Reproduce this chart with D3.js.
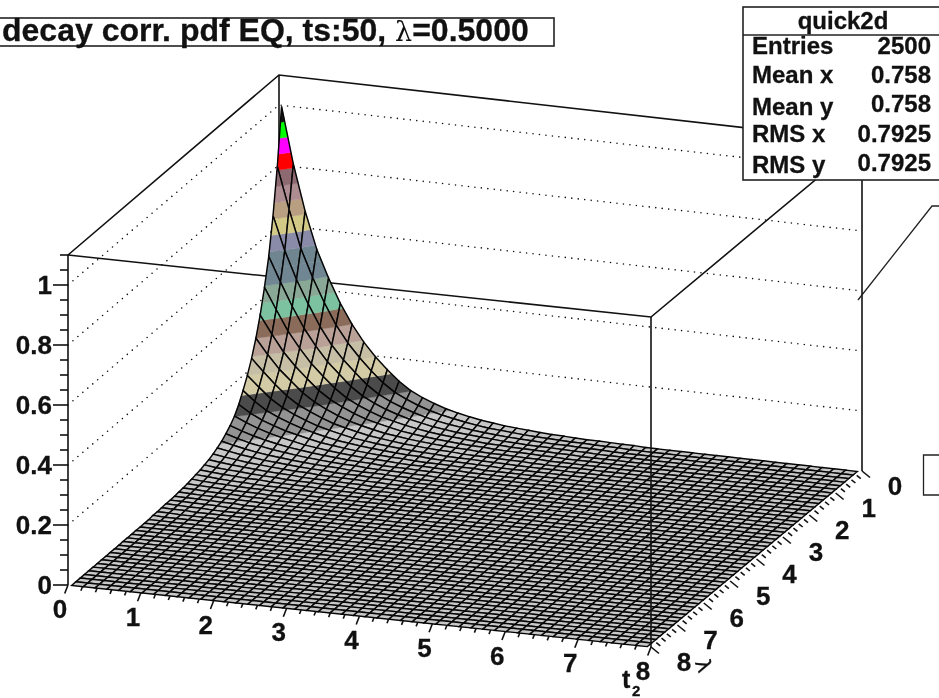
<!DOCTYPE html>
<html>
<head>
<meta charset="utf-8">
<style>
  html, body { margin: 0; padding: 0; background: #fff; overflow: hidden; }
  svg { display: block; filter: blur(0.35px); }
  text { font-family: "Liberation Sans", Arial, sans-serif; font-weight: bold; fill: #111; stroke: #111; stroke-width: 0.3; }
</style>
<script src="https://cdn.jsdelivr.net/npm/d3@7"></script>
</head>
<body>
<svg id="chart" width="939" height="698"></svg>
<script>
// decay corr. pdf surface, drawn back to front like a ROOT surf1

const titleStart = "decay corr. pdf EQ, ts:50, ";
const titleEnd = "=0.5000";
const statNames = ["Entries", "Mean x", "Mean y", "RMS x", "RMS y"];
const statValues = ["2500", "0.758", "0.758", "0.7925", "0.7925"];

const tTicks = [0, 1, 2, 3, 4, 5, 6, 7, 8];
const lambdaTicks = [0, 1, 2, 3, 4, 5, 6, 7, 8];
const zTicks = [0, 0.2, 0.4, 0.6, 0.8, 1];
const BINS = 50;

// upper triangle of the (symmetric) pdf, row i starts at column j = i; anything past the end is 0
const pdfRows = [
  [1.00,.812,.660,.536,.445,.365,.300,.245,.200,.162,.128,.101,.082,.067,.054,.044,.036,.029,.024,.019,.016,.013,.010,.008,.007,.005,.004,.004,.003,.002,.002],
  [.673,.547,.455,.375,.305,.250,.205,.165,.130,.103,.084,.068,.055,.045,.037,.030,.024,.019,.016,.013,.010,.008,.007,.005,.004,.004,.003,.002,.002],
  [.455,.378,.308,.250,.205,.167,.131,.104,.084,.069,.056,.045,.037,.030,.025,.020,.016,.013,.010,.008,.007,.005,.004,.004,.003,.002,.002],
  [.310,.255,.207,.170,.133,.106,.086,.070,.057,.046,.038,.030,.025,.020,.017,.014,.011,.008,.007,.005,.004,.004,.003,.002,.002],
  [.208,.170,.135,.107,.087,.071,.057,.047,.038,.031,.025,.020,.017,.014,.011,.008,.007,.005,.004,.004,.003,.002,.002],
  [.135,.109,.089,.072,.058,.048,.039,.031,.026,.021,.017,.014,.011,.009,.008,.005,.004,.004,.003,.002,.002],
  [.089,.072,.058,.048,.039,.031,.026,.021,.017,.014,.011,.009,.008,.005,.004,.004,.003,.002,.002],
  [.058,.048,.039,.031,.026,.021,.017,.014,.011,.009,.008,.005,.004,.004,.003,.002,.002],
  [.039,.031,.026,.021,.017,.014,.011,.009,.008,.005,.004,.004,.003,.002,.002],
  [.026,.021,.017,.014,.011,.009,.008,.005,.004,.004,.003,.002,.002],
  [.017,.014,.011,.009,.008,.005,.004,.004,.003,.002,.002],
  [.011,.009,.008,.005,.004,.004,.003,.002,.002],
  [.008,.005,.004,.004,.003,.002,.002],
  [.004,.004,.003,.002,.002],
  [.003,.002,.002],
  [.002]
];

// contour levels and the colour of each band, low to high
const bandLevels = [.05,.1,.15,.2,.25,.3,.35,.4,.45,.5,.55,.6,.65,.7,.75,.8,.85,.9,.95];
const bandColors = ["#c8c8c8","#939393","#4b4b4b","#d3caa6","#c6bfa5","#b9a198","#8b6c5a","#7cc2a0","#8aa896","#708793",
  "#6f8590","#8a8ba8","#d2c987","#b89f82","#ad8c92","#8d6a72","#ff0000","#ff00ff","#00ff00","#111111"];

const svg = d3.select("#chart");

// oblique projection: each axis moves the point along its own screen direction,
// plus a small sag term since the box is not quite parallel in the picture
const ORIGIN = [279, 405];
const tX = d3.scaleLinear().domain([0, 8]).range([0, 583]);
const tY = d3.scaleLinear().domain([0, 8]).range([0, 66]);
const lX = d3.scaleLinear().domain([0, 8]).range([0, -211]);
const lY = d3.scaleLinear().domain([0, 8]).range([0, 180]);
const sag = d3.scaleLinear().domain([0, 64]).range([0, -4]);
const zY = d3.scaleLinear().domain([0, 1]).range([0, -300]);
const project = (t, l, z) => [ORIGIN[0] + tX(t) + lX(l), ORIGIN[1] + tY(t) + lY(l) + sag(t * l) + zY(z)];
const Z_TOP = 1.1;

// mesh nodes: small white gap along the t ends, none on the front lambda edge
const tNode = d3.scaleLinear().domain([0, BINS - 1]).range([0.05, 7.95]);
const lNode = d3.scaleLinear().domain([0, BINS - 1]).range([0.04, 8]);

const polyPath = d3.line().x(d => d[0]).y(d => d[1]);
const linePts = (a, b) => polyPath([a, b]);

function pdfAt(i, j) {
  const a = Math.min(i, j), b = Math.max(i, j);
  const row = pdfRows[a];
  if (!row) return 0;
  const v = row[b - a];
  return v === undefined ? 0 : v;
}

// keep the part of a polygon on one side of a z level
function clipZ(poly, level, keepAbove) {
  const out = [];
  poly.forEach((p, k) => {
    const q = poly[(k + 1) % poly.length];
    const pIn = keepAbove ? p[2] >= level : p[2] <= level;
    const qIn = keepAbove ? q[2] >= level : q[2] <= level;
    if (pIn) out.push(p);
    if (pIn !== qIn) {
      const f = (level - p[2]) / (q[2] - p[2]);
      out.push([p[0] + f * (q[0] - p[0]), p[1] + f * (q[1] - p[1]), level]);
    }
  });
  return out;
}

// ---- back walls and frame, behind the surface
const back = svg.append("g").attr("fill", "none").attr("stroke", "#111");
const dots = back.append("g").attr("stroke-width", 1.6).attr("stroke-linecap", "round").attr("stroke-dasharray", "0 6.5");
zTicks.filter(z => z > 0).forEach(z => {
  dots.append("path").attr("d", polyPath([project(0, 8, z), project(0, 0, z), project(8, 0, z)]));
});
back.append("path").attr("stroke-width", 1.6)
  .attr("d", polyPath([project(0, 8, Z_TOP), project(0, 0, Z_TOP), project(8, 0, Z_TOP), project(8, 8, Z_TOP), project(0, 8, Z_TOP)]));
back.append("path").attr("stroke-width", 1.6).attr("d", linePts(project(0, 0, 0), project(0, 0, Z_TOP)));
back.append("path").attr("stroke-width", 1.6).attr("d", linePts(project(8, 0, 0), project(8, 0, Z_TOP)));

// ---- surface
const surf = svg.append("g");
for (let i = 0; i < BINS - 1; i++) {
  for (let j = 0; j < BINS - 1; j++) {
    const quad = [
      [tNode(i), lNode(j), pdfAt(i, j)],
      [tNode(i + 1), lNode(j), pdfAt(i + 1, j)],
      [tNode(i + 1), lNode(j + 1), pdfAt(i + 1, j + 1)],
      [tNode(i), lNode(j + 1), pdfAt(i, j + 1)]
    ];
    const lo = d3.min(quad, d => d[2]), hi = d3.max(quad, d => d[2]);
    bandColors.forEach((c, k) => {
      const a = k === 0 ? -1 : bandLevels[k - 1];
      const b = k === bandLevels.length ? 2 : bandLevels[k];
      if (hi < a || lo > b) return;
      const part = clipZ(clipZ(quad, a, true), b, false);
      if (part.length < 3) return;
      surf.append("path")
        .attr("d", polyPath(part.map(p => project(p[0], p[1], p[2]))) + "Z")
        .attr("fill", c).attr("stroke", c).attr("stroke-width", 0.4);
    });
    surf.append("path")
      .attr("d", polyPath(quad.map(p => project(p[0], p[1], p[2]))) + "Z")
      .attr("fill", "none").attr("stroke", "#050505").attr("stroke-width", 1.45);
  }
}

// ---- front box edge and axes
const axes = svg.append("g").attr("fill", "none").attr("stroke", "#111").attr("stroke-width", 1.6);
axes.append("path").attr("d", linePts(project(8, 8, 0), project(8, 8, Z_TOP)));
axes.append("path").attr("d", linePts(project(0, 8, 0), project(0, 8, Z_TOP)));

const labels = svg.append("g").attr("font-size", 26);

// z axis, left edge
d3.range(0, 1.1001, 0.05).forEach(z => {
  const p = project(0, 8, z);
  const major = Math.abs(z / 0.2 - Math.round(z / 0.2)) < 1e-6;
  axes.append("path").attr("d", linePts(p, [p[0] - (major ? 15 : 8), p[1]]));
});
zTicks.forEach(z => {
  const p = project(0, 8, z);
  labels.append("text").attr("x", 52).attr("y", p[1] + 9).attr("text-anchor", "end").text(z);
});

// t axis, front left edge
d3.range(0, 8.001, 0.2).forEach(t => {
  const p = project(t, 8, 0);
  const major = Math.abs(t - Math.round(t)) < 1e-6;
  axes.append("path").attr("d", linePts(p, [p[0] - (major ? 3.3 : 1.7), p[1] + (major ? 8.5 : 4.2)]));
});
tTicks.forEach(t => {
  const p = project(t, 8, 0);
  labels.append("text").attr("x", p[0] - 8).attr("y", p[1] + 33).attr("text-anchor", "middle").text(t);
});

// lambda axis, front right edge
d3.range(0, 8.001, 0.2).forEach(l => {
  const p = project(8, l, 0);
  const major = Math.abs(l - Math.round(l)) < 1e-6;
  axes.append("path").attr("d", linePts(p, [p[0] + (major ? 8 : 4), p[1] + (major ? 6.5 : 3.2)]));
});
lambdaTicks.forEach(l => {
  const p = project(8, l, 0);
  labels.append("text").attr("x", p[0] + 33).attr("y", p[1] + 24).attr("text-anchor", "middle").text(l);
});

// axis titles
labels.append("text").attr("x", 622).attr("y", 688).attr("font-size", 25).text("t");
labels.append("text").attr("x", 632).attr("y", 696).attr("font-size", 15).text("2");
labels.append("text").attr("transform", "translate(697,668) rotate(70)").attr("font-size", 21)
  .attr("text-anchor", "middle").style("font-family", "'DejaVu Sans'").style("font-weight", "normal").text("λ");

// ---- title box
svg.append("rect").attr("x", -2).attr("y", 18).attr("width", 556).attr("height", 28)
  .attr("fill", "#fff").attr("stroke", "#222").attr("stroke-width", 1.6);
const title = svg.append("text").attr("x", 2).attr("y", 41).attr("font-size", 32);
title.append("tspan").text(titleStart);
title.append("tspan").style("font-family", "'DejaVu Serif'").style("font-weight", "normal").style("stroke-width", 0).attr("font-size", 27).text("λ");
title.append("tspan").text(titleEnd);

// ---- stats box
svg.append("rect").attr("x", 743).attr("y", 7).attr("width", 210).attr("height", 173)
  .attr("fill", "#fff").attr("stroke", "#222").attr("stroke-width", 1.6);
svg.append("path").attr("d", "M743,35H939").attr("stroke", "#222").attr("stroke-width", 1.6);
svg.append("text").attr("x", 843).attr("y", 29).attr("text-anchor", "middle").attr("font-size", 24).text("quick2d");
const nameRows = [54, 83, 115, 142, 173];
const valueRows = [54, 83, 112, 142, 171];
statNames.forEach((n, k) => {
  svg.append("text").attr("x", 752).attr("y", nameRows[k]).attr("font-size", 24).text(n);
  svg.append("text").attr("x", 931).attr("y", valueRows[k]).attr("font-size", 24).attr("text-anchor", "end").text(statValues[k]);
});

// ---- bits of the neighbouring pad objects
const side = svg.append("g").attr("fill", "none").attr("stroke", "#222").attr("stroke-width", 1.3);
side.append("path").attr("d", "M858,300L932,206H940");
side.append("path").attr("d", "M940,455H923.5V495H940");
</script>
</body>
</html>
